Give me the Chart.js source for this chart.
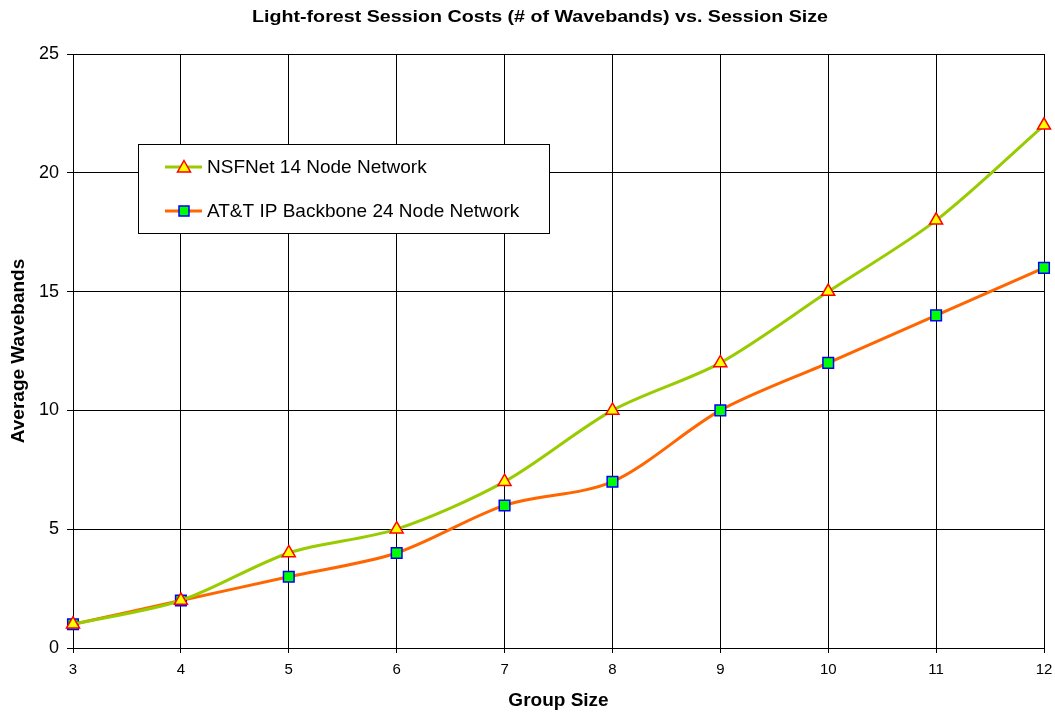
<!DOCTYPE html>
<html>
<head>
<meta charset="utf-8">
<script src="https://cdn.jsdelivr.net/npm/chart.js@4/dist/chart.umd.min.js"></script>
<style>
  html, body { margin: 0; padding: 0; background: #fff; }
  #wrap { width: 1055px; height: 713px; }
</style>
</head>
<body>
<div id="wrap"><canvas id="c" width="1055" height="713"></canvas></div>
<script>
// Group sizes along the x axis
const groupSizes = [3, 4, 5, 6, 7, 8, 9, 10, 11, 12];
// Average wavebands per session
const nsfnet = [1, 2, 4, 5, 7, 10, 12, 15, 18, 22];
const attBackbone = [1, 2, 3, 4, 6, 7, 10, 12, 14, 16];
const seriesNames = ['NSFNet 14 Node Network', 'AT&T IP Backbone 24 Node Network'];
const yTicks = [0, 5, 10, 15, 20, 25];
const chartTitle = 'Light-forest Session Costs (# of Wavebands) vs. Session Size';
const xTitle = 'Group Size';
const yTitle = 'Average Wavebands';

const FONT = 'Arial, "Liberation Sans", Helvetica, sans-serif';

// Title drawn centred above the plot, widened to its display width
const titlePlugin = {
  id: 'topTitle',
  afterDraw(chart) {
    const ctx = chart.ctx;
    ctx.save();
    ctx.font = 'bold 16px ' + FONT;
    ctx.fillStyle = '#000';
    ctx.textAlign = 'center';
    ctx.textBaseline = 'middle';
    const w = ctx.measureText(chartTitle).width;
    const sx = 576 / w;
    ctx.translate(540, 18);
    ctx.scale(sx, 1);
    ctx.fillText(chartTitle, 0, 0);
    ctx.restore();
  }
};

// Boxed legend sitting inside the plot area
const boxLegend = {
  id: 'boxLegend',
  afterDatasetsDraw(chart) {
    const ctx = chart.ctx;
    const x = 138.5, y = 144.5, w = 411, h = 89;
    ctx.save();
    ctx.fillStyle = '#fff';
    ctx.fillRect(x, y, w, h);
    ctx.strokeStyle = '#000';
    ctx.lineWidth = 1;
    ctx.strokeRect(x, y, w, h);
    ctx.font = '19px ' + FONT;
    ctx.textBaseline = 'middle';
    ctx.textAlign = 'left';
    chart.data.datasets.forEach((ds, i) => {
      const cy = 167 + i * 44;
      ctx.strokeStyle = ds.borderColor;
      ctx.lineWidth = 3;
      ctx.beginPath();
      ctx.moveTo(165, cy);
      ctx.lineTo(202, cy);
      ctx.stroke();
      ctx.fillStyle = ds.pointBackgroundColor;
      ctx.strokeStyle = ds.pointBorderColor;
      ctx.lineWidth = 1.5;
      const cx = 184;
      if (ds.pointStyle === 'triangle') {
        ctx.beginPath();
        ctx.moveTo(cx, cy - 6.5);
        ctx.lineTo(cx + 6.5, cy + 5);
        ctx.lineTo(cx - 6.5, cy + 5);
        ctx.closePath();
        ctx.fill(); ctx.stroke();
      } else {
        ctx.fillRect(cx - 5, cy - 5, 10, 10);
        ctx.strokeRect(cx - 5, cy - 5, 10, 10);
      }
      ctx.fillStyle = '#000';
      ctx.fillText(ds.label, 207, cy + 1);
    });
    ctx.restore();
  }
};

new Chart(document.getElementById('c'), {
  type: 'line',
  data: {
    labels: groupSizes,
    datasets: [
      {
        label: seriesNames[0],
        data: nsfnet,
        borderColor: '#99CC00',
        borderWidth: 3,
        tension: 0.3,
        clip: false,
        pointStyle: 'triangle',
        pointRadius: 7.5,
        pointBackgroundColor: '#FFFF00',
        pointBorderColor: '#FF0000',
        pointBorderWidth: 1.5
      },
      {
        label: seriesNames[1],
        data: attBackbone,
        borderColor: '#FF6600',
        borderWidth: 3,
        tension: 0.3,
        clip: false,
        pointStyle: 'rect',
        pointRadius: 7.5,
        pointBackgroundColor: '#00FF00',
        pointBorderColor: '#0000FF',
        pointBorderWidth: 1.5
      }
    ]
  },
  options: {
    responsive: false,
    animation: false,
    layout: { autoPadding: false, padding: { top: 54, right: 11, left: 0, bottom: 0 } },
    plugins: {
      legend: { display: false },
      title: { display: false },
      tooltip: { enabled: false }
    },
    scales: {
      x: {
        type: 'linear',
        min: 3,
        max: 12,
        afterFit(scale) {
          scale.height = 65;
          scale.paddingLeft = 0;
          scale.paddingRight = 0;
        },
        afterBuildTicks(scale) { scale.ticks = groupSizes.map(v => ({ value: v })); },
        grid: { color: '#000', lineWidth: 1, tickLength: 5, drawTicks: true },
        border: { color: '#000', width: 1 },
        ticks: { color: '#000', font: { family: FONT, size: 15 }, padding: 8, autoSkip: false, maxRotation: 0 },
        title: { display: true, text: xTitle, color: '#000', font: { family: FONT, size: 19, weight: 'bold' }, padding: { top: 4, bottom: 1 } }
      },
      y: {
        min: 0,
        max: 25,
        afterFit(scale) { scale.width = 73; },
        afterBuildTicks(scale) { scale.ticks = yTicks.map(v => ({ value: v })); },
        grid: { color: '#000', lineWidth: 1, tickLength: 6 },
        border: { color: '#000', width: 1 },
        ticks: { color: '#000', font: { family: FONT, size: 18 }, padding: 8 },
        title: { display: true, text: yTitle, color: '#000', font: { family: FONT, size: 19, weight: 'bold' }, padding: { top: 7, bottom: 0 } }
      }
    }
  },
  plugins: [titlePlugin, boxLegend]
});
</script>
</body>
</html>
